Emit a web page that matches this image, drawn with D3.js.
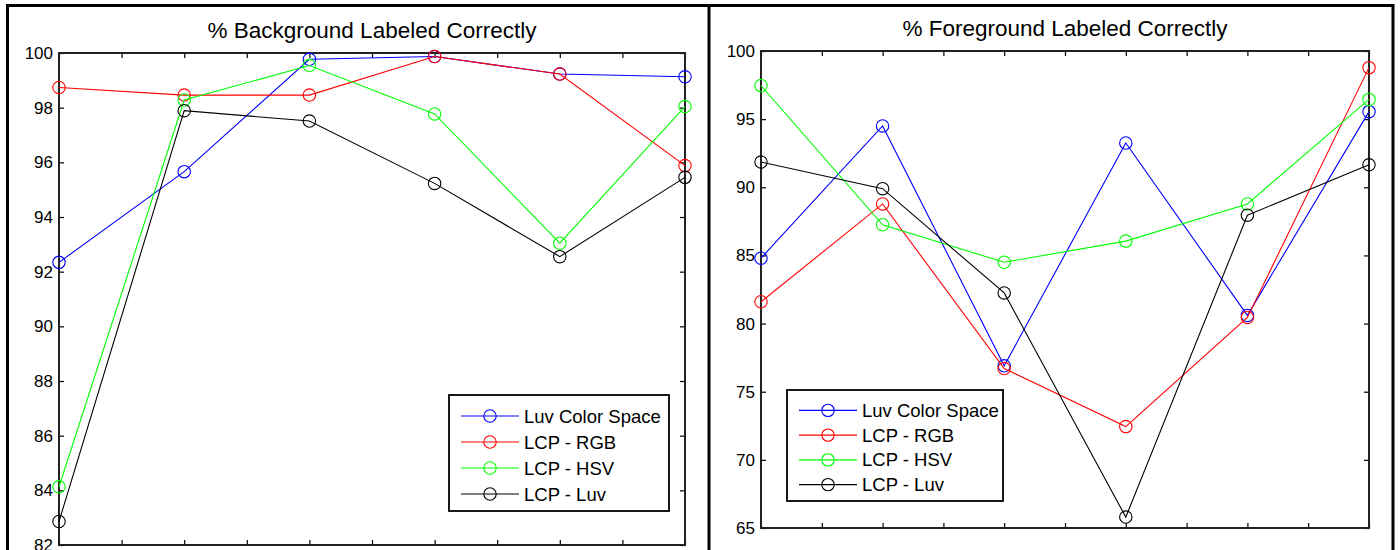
<!DOCTYPE html>
<html>
<head>
<meta charset="utf-8">
<script src="https://cdnjs.cloudflare.com/ajax/libs/d3/7.8.5/d3.min.js"></script>
<style>
  html, body { margin: 0; padding: 0; background: #fff; }
  svg { display: block; font-family: "Liberation Sans", Arial, sans-serif; }
</style>
</head>
<body>
<svg id="chart" width="1400" height="550"></svg>
<script>
// Run index (1..6) shared by both panels
const runs = [1, 2, 3, 4, 5, 6];
const seriesNames = ["Luv Color Space", "LCP - RGB", "LCP - HSV", "LCP - Luv"];
const seriesColors = ["#0000ff", "#ff0000", "#00ff00", "#000000"];

// % background pixels labeled correctly
const bgLuv = [92.34, 95.66, 99.77, 99.87, 99.23, 99.13];
const bgRGB = [98.74, 98.46, 98.46, 99.87, 99.23, 95.88];
const bgHSV = [84.13, 98.28, 99.54, 97.77, 93.04, 98.04];
const bgLCPLuv = [82.86, 97.89, 97.51, 95.23, 92.55, 95.45];

// % foreground pixels labeled correctly
const fgLuv = [84.8, 94.5, 76.9, 93.25, 80.6, 95.55];
const fgRGB = [81.6, 88.78, 76.7, 72.44, 80.45, 98.78];
const fgHSV = [97.46, 87.25, 84.5, 86.05, 88.78, 96.45];
const fgLCPLuv = [91.85, 89.9, 82.25, 65.8, 87.95, 91.65];

const bgTicks = [82, 84, 86, 88, 90, 92, 94, 96, 98, 100];
const fgTicks = [65, 70, 75, 80, 85, 90, 95, 100];
const xTicks = [1, 1.5, 2, 2.5, 3, 3.5, 4, 4.5, 5, 5.5, 6];

const svg = d3.select("#chart");

// Figure frames
const frame = svg.append("g").attr("stroke", "#000").attr("stroke-width", 3).attr("fill", "none");
frame.append("line").attr("x1", 7).attr("x2", 1393).attr("y1", 5.5).attr("y2", 5.5);
frame.append("line").attr("x1", 7.5).attr("x2", 7.5).attr("y1", 4).attr("y2", 550);
frame.append("line").attr("x1", 709).attr("x2", 709).attr("y1", 4).attr("y2", 550);
frame.append("line").attr("x1", 1393).attr("x2", 1393).attr("y1", 4).attr("y2", 550);

const panels = [
  {
    title: "% Background Labeled Correctly",
    box: { x0: 59, x1: 685, y0: 53, y1: 545 },
    yDomain: [82, 100], yTicks: bgTicks,
    data: [bgLuv, bgRGB, bgHSV, bgLCPLuv],
    legend: { x: 449, y: 395, w: 220, h: 116 }
  },
  {
    title: "% Foreground Labeled Correctly",
    box: { x0: 761, x1: 1369, y0: 51, y1: 528 },
    yDomain: [65, 100], yTicks: fgTicks,
    data: [fgLuv, fgRGB, fgHSV, fgLCPLuv],
    legend: { x: 787, y: 390, w: 216, h: 111 }
  }
];

panels.forEach(p => {
  const b = p.box;
  const x = d3.scaleLinear().domain([1, 6]).range([b.x0, b.x1]);
  const y = d3.scaleLinear().domain(p.yDomain).range([b.y1, b.y0]);
  const g = svg.append("g");

  // Title
  g.append("text")
    .attr("x", (b.x0 + b.x1) / 2)
    .attr("y", b.y0 - 15)
    .attr("text-anchor", "middle")
    .attr("font-size", 22.5)
    .attr("fill", "#000")
    .text(p.title);

  // Axes with inward ticks on all four sides
  const styleAxis = sel => {
    sel.select(".domain").remove();
    sel.selectAll(".tick line").attr("stroke", "#000").attr("stroke-width", 1.2);
    sel.selectAll(".tick text").attr("font-size", 17).attr("fill", "#000")
      .attr("font-family", "'Liberation Sans', Arial, sans-serif");
  };
  g.append("g").attr("transform", `translate(${b.x0},0)`)
    .call(d3.axisLeft(y).tickValues(p.yTicks).tickSizeInner(-5).tickSizeOuter(0).tickPadding(6))
    .call(styleAxis);
  g.append("g").attr("transform", `translate(${b.x1},0)`)
    .call(d3.axisRight(y).tickValues(p.yTicks).tickSizeInner(-5).tickSizeOuter(0).tickFormat(""))
    .call(styleAxis);
  g.append("g").attr("transform", `translate(0,${b.y0})`)
    .call(d3.axisTop(x).tickValues(xTicks).tickSizeInner(-5).tickSizeOuter(0).tickFormat(""))
    .call(styleAxis);
  g.append("g").attr("transform", `translate(0,${b.y1})`)
    .call(d3.axisBottom(x).tickValues(xTicks).tickSizeInner(-5).tickSizeOuter(0).tickFormat(""))
    .call(styleAxis);

  // Axes box
  g.append("rect")
    .attr("x", x(1)).attr("y", y(p.yDomain[1]))
    .attr("width", x(6) - x(1)).attr("height", y(p.yDomain[0]) - y(p.yDomain[1]))
    .attr("fill", "none").attr("stroke", "#222").attr("stroke-width", 2);

  // Series lines with open circle markers
  const line = d3.line().x((d, i) => x(runs[i])).y(d => y(d));
  p.data.forEach((vals, si) => {
    const sg = g.append("g");
    sg.append("path").datum(vals)
      .attr("d", line).attr("fill", "none")
      .attr("stroke", seriesColors[si]).attr("stroke-width", 1.1);
    sg.selectAll("circle").data(vals).join("circle")
      .attr("cx", (d, i) => x(runs[i])).attr("cy", d => y(d))
      .attr("r", 6.2).attr("fill", "none")
      .attr("stroke", seriesColors[si]).attr("stroke-width", 1.1);
  });

  // Legend
  const L = p.legend;
  const lg = g.append("g");
  lg.append("rect").attr("x", L.x).attr("y", L.y).attr("width", L.w).attr("height", L.h)
    .attr("fill", "#fff").attr("stroke", "#000").attr("stroke-width", 1.8);
  const rowH = (L.h - 12) / seriesNames.length;
  seriesNames.forEach((name, si) => {
    const ry = L.y + 7 + rowH * (si + 0.5) + 1;
    lg.append("line").attr("x1", L.x + 12).attr("x2", L.x + 70)
      .attr("y1", ry).attr("y2", ry)
      .attr("stroke", seriesColors[si]).attr("stroke-width", 1.1);
    lg.append("circle").attr("cx", L.x + 41).attr("cy", ry).attr("r", 6.2)
      .attr("fill", "none").attr("stroke", seriesColors[si]).attr("stroke-width", 1.1);
    lg.append("text").attr("x", L.x + 75).attr("y", ry + 6.5)
      .attr("font-size", 18.5).attr("fill", "#000").text(name);
  });
});
</script>
</body>
</html>
